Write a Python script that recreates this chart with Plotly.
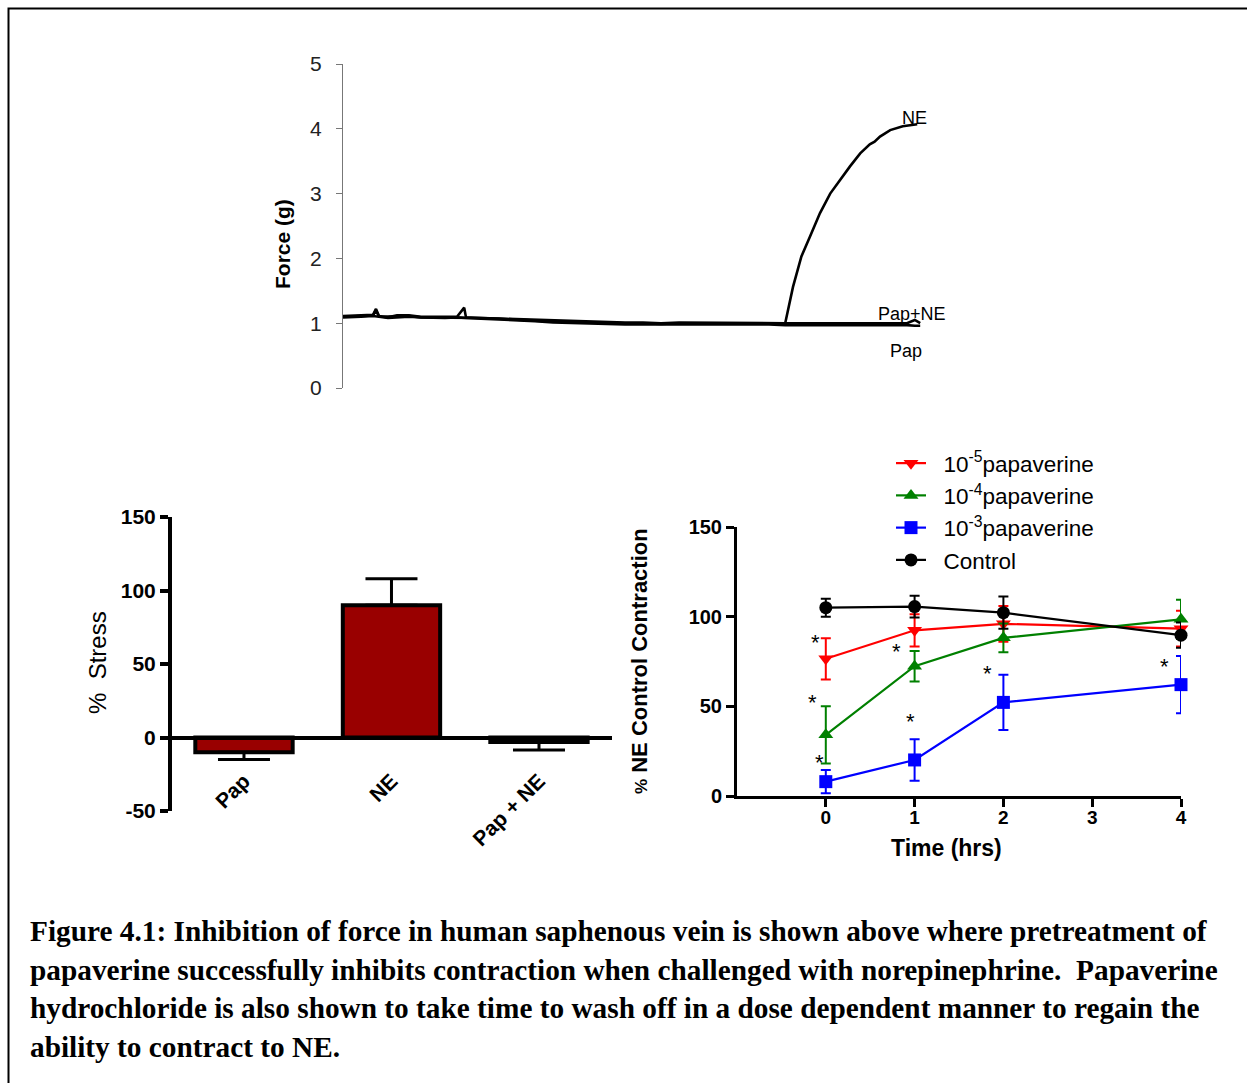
import plotly.graph_objects as go

W, H = 1247, 1083

def px(x):
    return x / W

def py(y):
    return 1 - y / H

# ---------------- DATA ----------------
# Top panel: force traces (g) vs time (arbitrary units)
t_base = [0, 1.5, 3, 5, 5.5, 6, 7.5, 9, 11, 13, 15, 17, 19, 20.2, 20.5, 23, 26, 29, 32, 35,
          38, 41, 44, 47, 50, 53, 56, 59, 62, 65, 68, 71, 73.7]
ne_base = [1.11, 1.12, 1.12, 1.13, 1.22, 1.11, 1.09, 1.12, 1.12, 1.10, 1.10, 1.10, 1.10, 1.24, 1.09,
           1.08, 1.07, 1.06, 1.05, 1.04, 1.03, 1.02, 1.02, 1.01, 1.01, 1.00, 1.01, 1.01, 1.00,
           1.01, 1.00, 1.01, 1.00]
t_rise = [75, 76.4, 77.8, 79.5, 81.2, 82.8, 84.5, 86.2, 87.8, 88.6, 89.5, 91.2, 93.3, 95.7]
ne_rise = [1.56, 2.03, 2.33, 2.70, 3.00, 3.21, 3.42, 3.62, 3.76, 3.80, 3.88, 3.98, 4.04, 4.07]

t_tail = [76, 79, 82, 85, 88, 91, 94, 95.3, 96.2]
papne_base = [1.10, 1.11, 1.11, 1.12, 1.20, 1.10, 1.10, 1.10, 1.11, 1.09, 1.09, 1.09, 1.09, 1.09, 1.08,
              1.08, 1.07, 1.05, 1.04, 1.03, 1.02, 1.01, 1.01, 1.00, 1.00, 0.99, 1.00, 1.00, 1.00,
              1.00, 0.99, 1.00, 0.99]
papne_tail = [1.00, 0.99, 1.00, 0.99, 1.00, 0.99, 1.00, 1.05, 1.00]
pap_base = [1.09, 1.10, 1.10, 1.11, 1.10, 1.10, 1.08, 1.09, 1.10, 1.09, 1.08, 1.08, 1.09, 1.08, 1.08,
            1.07, 1.06, 1.05, 1.03, 1.01, 1.00, 0.99, 0.99, 0.98, 0.98, 0.98, 0.99, 0.98, 0.98,
            0.99, 0.98, 0.98, 0.97]
pap_tail = [0.97, 0.98, 0.97, 0.98, 0.97, 0.97, 0.97, 0.96, 0.96]

# Bottom-left: bar chart (% Stress)
bar_cats = ["Pap", "NE", "Pap + NE"]
bar_vals = [-10, 90, -3]
bar_err_up = [0, 18, 0]
bar_err_down = [5, 0, 5.5]
bar_ticks = [-50, 0, 50, 100, 150]
bar_tick_text = ["-50", "0", "50", "100", "150"]

# Bottom-right: time course (% NE control contraction)
time_hrs = [0, 1, 2, 4]
pap5 = [76.5, 92.4, 96.0, 93.3]
pap5_err = [11.5, 9, 10, 10]
pap4 = [34.1, 72.4, 88.2, 98.5]
pap4_err = [16, 8.5, 8, 11]
pap3 = [8.0, 20.1, 52.2, 62.1]
pap3_err = [6.5, 11.6, 15.4, 16]
control = [105, 105.6, 102.2, 89.7]
control_err = [5, 6, 9, 7]

series_names = ["10<sup>-5</sup>papaverine", "10<sup>-4</sup>papaverine",
                "10<sup>-3</sup>papaverine", "Control"]

# ---------------- FIGURE ----------------
FONT = "Arial, Liberation Sans, sans-serif"
fig = go.Figure()

# Top traces
for tt, yy in [(t_base + t_tail, pap_base + pap_tail),
               (t_base + t_tail, papne_base + papne_tail),
               (t_base + t_rise, ne_base + ne_rise)]:
    fig.add_trace(go.Scatter(x=tt, y=yy, mode="lines", line=dict(color="black", width=2.6),
                             xaxis="x", yaxis="y", showlegend=False, hoverinfo="skip"))

# Bars
fig.add_trace(go.Bar(x=bar_cats, y=bar_vals, width=0.66,
                     marker=dict(color="#990000", line=dict(color="black", width=4)),
                     error_y=dict(type="data", symmetric=False, array=bar_err_up,
                                  arrayminus=bar_err_down, color="black", thickness=3, width=26),
                     xaxis="x2", yaxis="y2", showlegend=False))

# Line chart series
styles = [
    (pap5, pap5_err, "#ff0000", "triangle-down"),
    (pap4, pap4_err, "#008000", "triangle-up"),
    (pap3, pap3_err, "#0000ff", "square"),
    (control, control_err, "#000000", "circle"),
]
for (vals, errs, col, sym), name in zip(styles, series_names):
    fig.add_trace(go.Scatter(x=time_hrs, y=vals, name="\u00a0\u00a0" + name, mode="lines+markers",
                             line=dict(color=col, width=2.2),
                             marker=dict(color=col, symbol=sym, size=13),
                             error_y=dict(type="data", array=errs, color=col, thickness=2, width=5),
                             cliponaxis=False, xaxis="x3", yaxis="y3"))

# ---------------- AXES ----------------
fig.update_layout(
    width=W, height=H, margin=dict(l=0, r=0, t=0, b=0, autoexpand=False),
    paper_bgcolor="white", plot_bgcolor="rgba(0,0,0,0)",
    font=dict(family=FONT, color="black"),
    xaxis=dict(domain=[px(343), px(943)], range=[0, 100], visible=False, anchor="y",
               automargin=False),
    yaxis=dict(domain=[py(388), py(64)], range=[0, 5], anchor="x", showline=True,
               linecolor="#777", linewidth=1, ticks="outside", ticklen=6, tickcolor="#777",
               tickvals=[0, 1, 2, 3, 4, 5], tickfont=dict(size=21, color="#222", family=FONT),
               ticklabelstandoff=10, showgrid=False, zeroline=False, automargin=False),
    xaxis2=dict(domain=[px(172), px(612)], range=[-0.488, 2.495], anchor="free",
                position=py(737.5), showline=True, linecolor="black", linewidth=4,
                ticks="outside", ticklen=21, tickcolor="rgba(0,0,0,0)", tickangle=-45,
                tickfont=dict(size=21, family=FONT, weight="bold"), showgrid=False,
                zeroline=False, automargin=False),
    yaxis2=dict(domain=[py(811), py(517)], range=[-50, 150], anchor="x2", showline=True,
                linecolor="black", linewidth=4, ticks="outside", ticklen=8, tickwidth=4,
                tickcolor="black", tickvals=bar_ticks, ticktext=bar_tick_text,
                tickfont=dict(size=21, family=FONT, weight="bold"), showgrid=False,
                zeroline=False, automargin=False),
    xaxis3=dict(domain=[px(737), px(1181)], range=[-1, 4], anchor="y3", showline=True,
                linecolor="black", linewidth=3, ticks="outside", ticklen=8, tickwidth=3,
                tickcolor="black", tickvals=[0, 1, 2, 3, 4], ticklabelstandoff=-6,
                tickfont=dict(size=19, family=FONT, weight="bold"), showgrid=False,
                zeroline=False, automargin=False),
    yaxis3=dict(domain=[py(796), py(527)], range=[0, 150], anchor="x3", showline=True,
                linecolor="black", linewidth=3, ticks="outside", ticklen=8, tickwidth=3,
                tickcolor="black", tickvals=[0, 50, 100, 150],
                tickfont=dict(size=20, family=FONT, weight="bold"), showgrid=False,
                zeroline=False, automargin=False),
    legend=dict(x=px(891), y=py(442), xanchor="left", yanchor="top",
                font=dict(size=22.5, family=FONT), bgcolor="rgba(0,0,0,0)",
                tracegroupgap=0, itemwidth=30),
    showlegend=True,
)

# ---------------- ANNOTATIONS ----------------
ann = []
ann.append(dict(text="<b>Force (g)</b>", x=px(282), y=py(244), textangle=-90,
                font=dict(size=21, family=FONT)))
ann.append(dict(text="NE", x=px(915), y=py(118), font=dict(size=18, family=FONT)))
ann.append(dict(text="Pap+NE", x=px(912), y=py(314), font=dict(size=18, family=FONT)))
ann.append(dict(text="Pap", x=px(906), y=py(351), font=dict(size=18, family=FONT)))
ann.append(dict(text="%  Stress", x=px(97), y=py(663), textangle=-90,
                font=dict(size=24, family=FONT)))
ann.append(dict(text="<b><span style='font-size:17px'>%</span> NE Control Contraction</b>",
                x=px(640), y=py(661), textangle=-90, font=dict(size=22, family=FONT)))
ann.append(dict(text="<b>Time (hrs)</b>", x=px(946), y=py(848), font=dict(size=23, family=FONT)))
for a in ann:
    a.update(xref="paper", yref="paper", showarrow=False, xanchor="center", yanchor="middle")

# significance asterisks (data coords of line chart)
stars = [(-0.113, 85.4), (-0.154, 51.9), (-0.075, 18.7), (0.80, 80.8), (0.958, 41.6),
         (1.82, 68.1), (3.81, 72.4)]
for sx, sy in stars:
    ann.append(dict(text="*", x=sx, y=sy, xref="x3", yref="y3", showarrow=False,
                    font=dict(size=22, family=FONT), xanchor="center", yanchor="middle"))

caption = [
    "Figure 4.1: Inhibition of force in human saphenous vein is shown above where pretreatment of",
    "papaverine successfully inhibits contraction when challenged with norepinephrine.  Papaverine",
    "hydrochloride is also shown to take time to wash off in a dose dependent manner to regain the",
    "ability to contract to NE.",
]
for i, line in enumerate(caption):
    ann.append(dict(text="<b>" + line + "</b>", x=px(28), y=py(931 + 38.7 * i), xref="paper",
                    yref="paper", xanchor="left", yanchor="middle", showarrow=False,
                    font=dict(size=29.3, family="Liberation Serif, Times New Roman, serif")))

fig.update_layout(annotations=ann)

# Border frame
fig.add_shape(type="rect", xref="paper", yref="paper", x0=px(8.5), y0=py(1100), x1=px(1260),
              y1=py(8.5), line=dict(color="black", width=2))

fig.write_html("out.html")
